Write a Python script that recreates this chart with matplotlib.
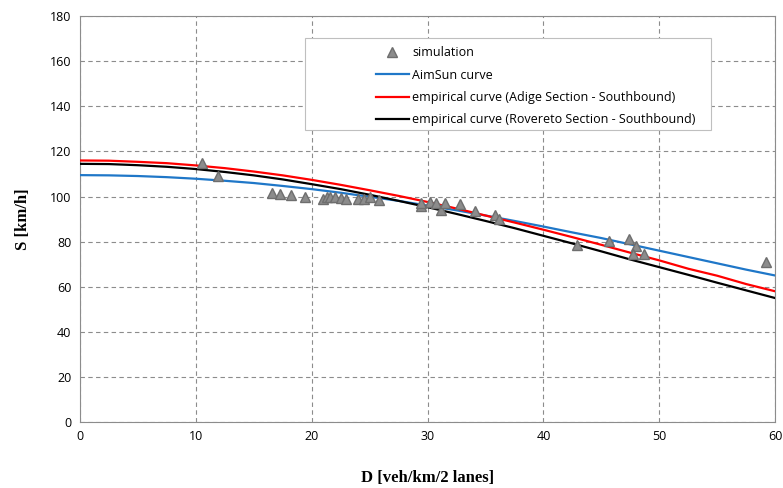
import matplotlib.pyplot as plt
from matplotlib.patches import Rectangle

# simulation points
sim_d = [10.5, 11.9, 16.6, 17.3, 18.2, 19.4, 21.0, 21.3, 21.6, 22.0, 22.5, 23.0, 24.0,
         24.5, 25.0, 25.8, 29.4, 29.4, 30.2, 30.7, 31.2, 31.5, 32.8, 34.1, 35.8, 36.2,
         42.9, 45.7, 47.4, 48.0, 47.7, 48.7, 59.2]
sim_s = [115, 109, 101.5, 101, 100.5, 100, 99, 100, 100, 100, 99.5, 99, 99,
         99, 100, 98.5, 96, 97, 97.5, 97, 94, 97, 96.5, 93.5, 92, 90,
         78.5, 80.5, 81, 78, 74.5, 74.5, 71]

# curves, read every 2.5 veh/km
curve_d = [0, 2.5, 5, 7.5, 10, 12.5, 15, 17.5, 20, 22.5, 25, 27.5, 30,
           32.5, 35, 37.5, 40, 42.5, 45, 47.5, 50, 52.5, 55, 57.5, 60]
aimsun_s = [109.5, 109.4, 109.1, 108.6, 107.9, 107.0, 106.0, 104.7, 103.3, 101.7, 99.9, 98.1, 96.0,
            93.9, 91.6, 89.2, 86.7, 84.1, 81.6, 78.8, 76.0, 73.2, 70.4, 67.6, 65.0]
adige_s = [116.0, 115.9, 115.4, 114.8, 113.8, 112.6, 111.1, 109.4, 107.4, 105.2, 102.8, 100.3, 97.6,
           94.7, 91.6, 88.5, 85.3, 82.0, 78.6, 75.1, 71.7, 68.0, 64.9, 61.2, 58.0]
rovereto_s = [114.5, 114.4, 113.9, 113.2, 112.2, 110.9, 109.4, 107.6, 105.5, 103.3, 100.8, 98.1, 95.3,
              92.3, 89.2, 86.0, 82.6, 79.2, 75.7, 72.1, 68.7, 65.3, 61.8, 58.4, 55.0]

plt.rcParams['font.family'] = ['Open Sans', 'DejaVu Sans']

fig = plt.figure(figsize=(7.83, 4.88), dpi=100)
ax = fig.add_axes([0.102, 0.135, 0.888, 0.832])

ax.plot(sim_d, sim_s, linestyle='none', marker='^', markersize=7,
        markerfacecolor='#8c8c8c', markeredgecolor='#6e6e6e', label='simulation', zorder=4)
ax.plot(curve_d, aimsun_s, color='#1f77c8', lw=1.6, label='AimSun curve', zorder=3)
ax.plot(curve_d, adige_s, color='#ff0000', lw=1.6,
        label='empirical curve (Adige Section - Southbound)', zorder=3)
ax.plot(curve_d, rovereto_s, color='#000000', lw=1.6,
        label='empirical curve (Rovereto Section - Southbound)', zorder=3)

ax.set_xlim(0, 60)
ax.set_ylim(0, 180)
ax.set_xticks(range(0, 61, 10))
ax.set_yticks(range(0, 181, 20))
ax.tick_params(labelsize=9, length=0, pad=6)
ax.grid(True, color='#8c8c8c', linestyle=(0, (4, 3)), lw=0.8)
for sp in ax.spines.values():
    sp.set_color('#8c8c8c')

ax.set_xlabel('D [veh/km/2 lanes]', family='Liberation Serif', fontweight='bold',
              fontsize=12, labelpad=19)
ax.set_ylabel('S [km/h]', family='Liberation Serif', fontweight='bold',
              fontsize=12, labelpad=14)

# legend box drawn separately (wide left margin as in the original)
ax.add_patch(Rectangle((0.324, 0.719), 0.583, 0.227, transform=ax.transAxes,
                       facecolor='white', edgecolor='#bfbfbf', lw=0.8, zorder=5))
leg = ax.legend(loc='upper left', bbox_to_anchor=(0.426, 0.926), fontsize=9,
                frameon=False, borderpad=0, borderaxespad=0, labelspacing=0.75,
                handlelength=2.6, handletextpad=0.3)
leg.set_zorder(6)

fig.savefig('out.png', dpi=100)
